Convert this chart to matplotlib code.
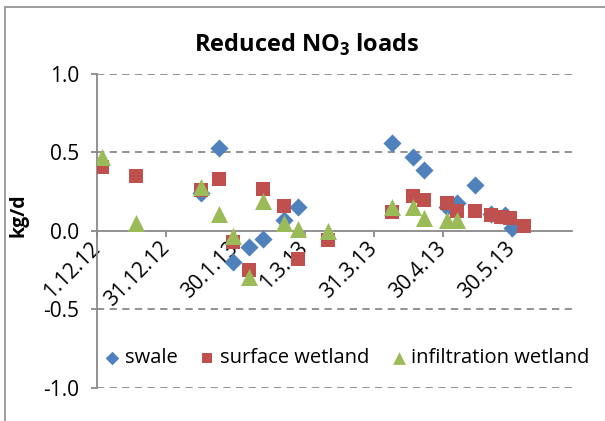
import matplotlib
matplotlib.use('Agg')
import matplotlib.pyplot as plt
import matplotlib.dates as mdates
import numpy as np
import pandas as pd
from matplotlib.patches import Rectangle

plt.rcParams['font.family'] = ['Open Sans', 'DejaVu Sans']
plt.rcParams['mathtext.fontset'] = 'custom'
plt.rcParams['mathtext.rm'] = 'Open Sans'
plt.rcParams['mathtext.bf'] = 'Open Sans:bold'

# data
swale_dates = ['2013-01-15', '2013-01-23', '2013-01-29', '2013-02-05', '2013-02-11',
               '2013-02-20', '2013-02-26', '2013-04-08', '2013-04-17', '2013-04-22',
               '2013-05-02', '2013-05-06', '2013-05-14', '2013-05-21', '2013-05-27',
               '2013-05-30']
swale = [0.24, 0.53, -0.20, -0.10, -0.05, 0.07, 0.15, 0.56, 0.47, 0.39,
         0.15, 0.18, 0.29, 0.11, 0.10, 0.02]

surf_dates = ['2012-12-03', '2012-12-18', '2013-01-15', '2013-01-23', '2013-01-29',
              '2013-02-05', '2013-02-11', '2013-02-20', '2013-02-26', '2013-03-11',
              '2013-04-08', '2013-04-17', '2013-04-22', '2013-05-02', '2013-05-06',
              '2013-05-14', '2013-05-21', '2013-05-25', '2013-05-29', '2013-06-04']
surface = [0.41, 0.35, 0.26, 0.33, -0.07, -0.25, 0.27, 0.16, -0.18, -0.06,
           0.12, 0.22, 0.20, 0.18, 0.13, 0.13, 0.10, 0.09, 0.08, 0.03]

inf_dates = ['2012-12-03', '2012-12-18', '2013-01-15', '2013-01-23', '2013-01-29',
             '2013-02-05', '2013-02-11', '2013-02-20', '2013-02-26', '2013-03-11',
             '2013-04-08', '2013-04-17', '2013-04-22', '2013-05-02', '2013-05-06']
infiltration = [0.47, 0.05, 0.28, 0.11, -0.03, -0.29, 0.19, 0.05, 0.015, 0.00,
                0.15, 0.15, 0.08, 0.07, 0.07]

tick_dates = ['2012-12-01', '2012-12-31', '2013-01-30', '2013-03-01',
              '2013-03-31', '2013-04-30', '2013-05-30']
tick_labels = ['1.12.12', '31.12.12', '30.1.13', '1.3.13', '31.3.13', '30.4.13', '30.5.13']
x_min, x_max = '2012-12-01', '2013-06-25'

blue = '#4F81BD'
red = '#C0504D'
green = '#9BBB59'
grey = '#898989'

fig = plt.figure(figsize=(6.05, 4.21), dpi=100)
fig.patches.append(Rectangle((5/605, -0.1), 1.2, 1 - 7/421 + 0.1, transform=fig.transFigure,
                             fill=False, edgecolor='#8c8c8c', linewidth=1.2))
ax = fig.add_axes([97/605, 1 - 388/421, 475/605, 314/421])

# spine position first, it resets tick styling
for s in ['top', 'right']:
    ax.spines[s].set_visible(False)
ax.spines['bottom'].set_position(('data', 0))

def d(lst):
    return mdates.date2num(pd.to_datetime(lst))

ax.scatter(d(swale_dates), swale, marker='D', s=85, color=blue, label='swale', zorder=3, linewidths=0)
ax.scatter(d(surf_dates), surface, marker='s', s=100, color=red, label='surface wetland', zorder=4, linewidths=0)
ax.scatter(d(inf_dates), infiltration, marker='^', s=150, color=green, label='infiltration wetland', zorder=5, linewidths=0)

ax.set_xlim(d([x_min])[0], d([x_max])[0])
ax.set_ylim(-1.0, 1.0)
ax.set_yticks([-1.0, -0.5, 0.0, 0.5, 1.0])
ax.set_yticklabels(['-1.0', '-0.5', '0.0', '0.5', '1.0'], fontsize=15)
ax.set_xticks(d(tick_dates))
ax.set_xticklabels(tick_labels, rotation=45, ha='right', va='center', rotation_mode='anchor', fontsize=15)

for y in [-1.0, -0.5, 0.5, 1.0]:
    ax.axhline(y, color=grey, linestyle=(0, (4, 3)), linewidth=1.3, zorder=1)

ax.spines['bottom'].set_color(grey)
ax.spines['left'].set_color(grey)
ax.spines['bottom'].set_linewidth(1.3)
ax.spines['left'].set_linewidth(1.3)
ax.tick_params(axis='x', direction='out', length=4, color=grey, width=1.3, pad=6)
ax.tick_params(axis='y', direction='out', length=4, color=grey, width=1.3, pad=9)

fig.text(307/605, 1 - 45/421, 'Reduced NO$_\\mathbf{3}$ loads', ha='center', va='center',
         fontsize=17, fontweight='bold')
fig.text(19/605, 1 - 215/421, 'kg/d', rotation=90, ha='center', va='center',
         fontsize=14, fontweight='bold')

fig.legend(loc='center', bbox_to_anchor=(346/605, 1 - 358/421), ncol=3, frameon=False,
           fontsize=14.5, markerscale=0.75, handletextpad=0.1, handlelength=1.0,
           columnspacing=1.0, borderaxespad=0)

fig.savefig('out.png', dpi=100)
